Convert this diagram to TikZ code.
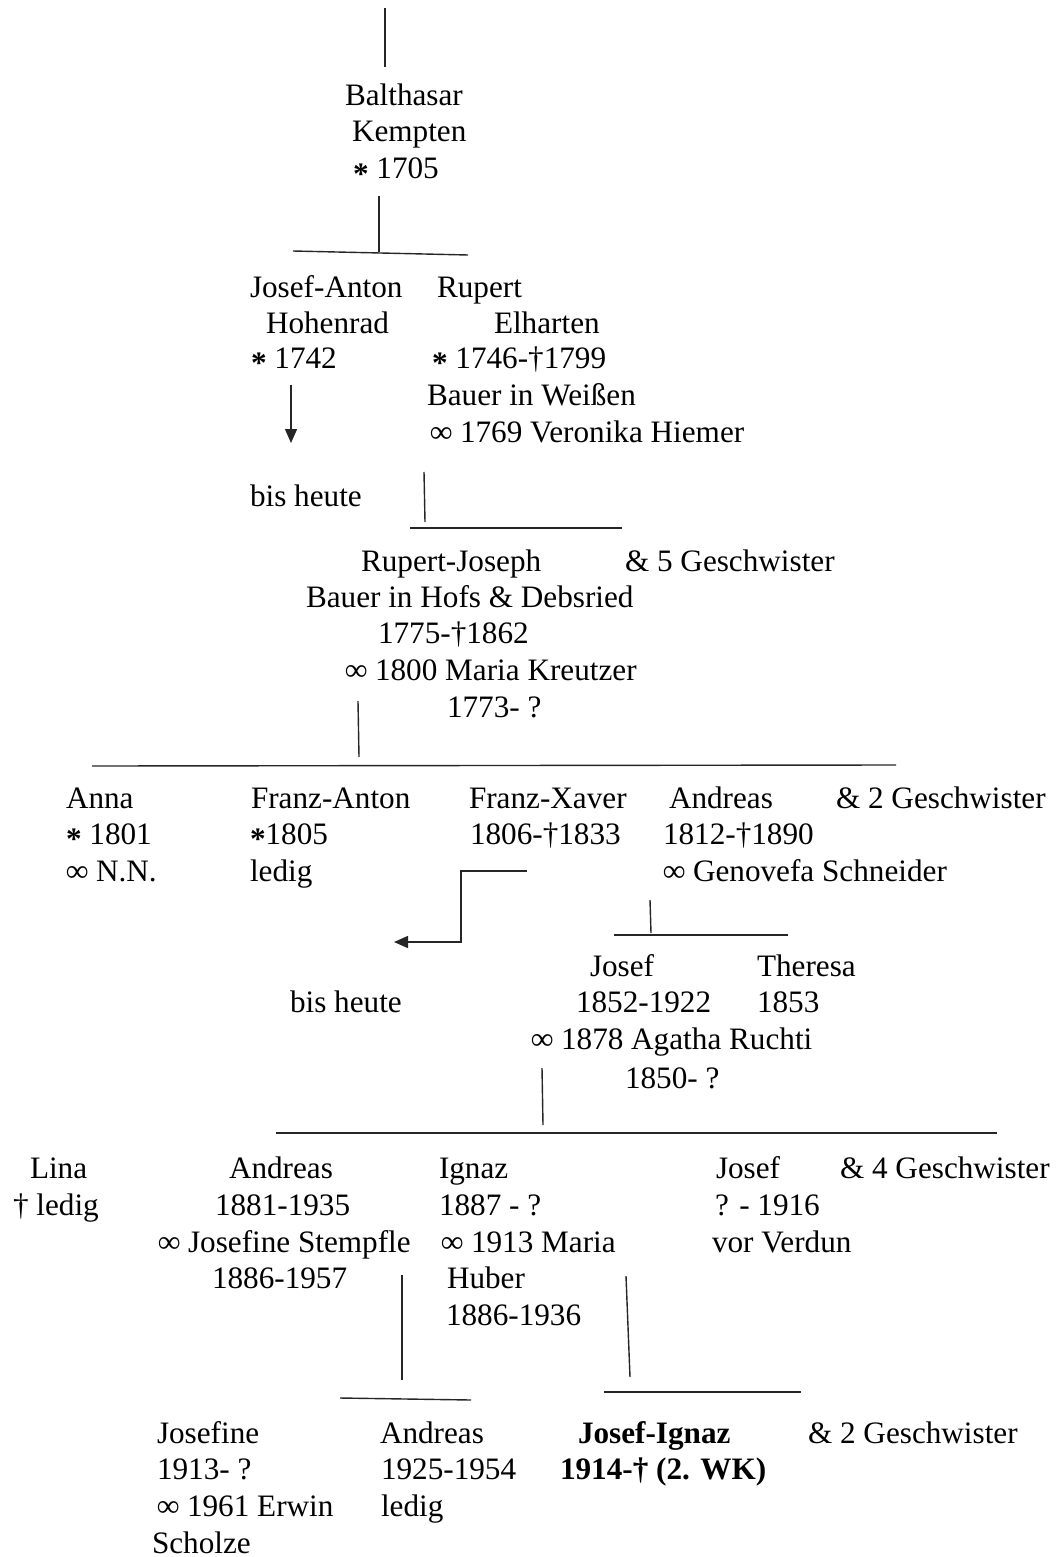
\documentclass[tikz,border=0pt]{standalone}
\usepackage{fontspec}
\setmainfont{Liberation Serif}
\usetikzlibrary{arrows.meta}
% birth and marriage marks
\newcommand\bornmk{\raisebox{-0.17em}{\bfseries *}}
\newcommand\marrmk{\textbf{∞}}

\begin{document}
\begin{tikzpicture}[x=0.5pt,y=-0.5pt,
  txt/.style={anchor=base west,inner sep=0pt,outer sep=0pt,
    font=\fontsize{15.6pt}{18.4pt}\selectfont},
  btxt/.style={txt,font=\fontsize{15.6pt}{18.4pt}\selectfont\bfseries},
  link/.style={line width=0.7pt,black!85},
  desc/.style={link,-{Triangle[length=7pt,width=6pt]}}]
\useasboundingbox (0,0) rectangle (1061,1557);

% ---- Balthasar
\node[txt] (b1) at (345,106) {Balthasar};
\node[txt] (b2) at (352,142) {Kempten};
\node[txt] (b3) at (353,179) {\bornmk\ 1705};

% ---- second generation
\node[txt] (ja1) at (250,297) {Josef-Anton};
\node[txt] (ja2) at (266,333) {Hohenrad};
\node[txt] (ja3) at (251,368) {\bornmk\ 1742};
\node[txt] (ru1) at (437,297) {Rupert};
\node[txt] (ru2) at (494,333) {Elharten};
\node[txt] (ru3) at (432,368) {\bornmk\ 1746-†1799};
\node[txt] (ru4) at (427,405) {Bauer in Weißen};
\node[txt] (ru5) at (430,442) {\marrmk\ 1769 Veronika Hiemer};
\node[txt] (bh1) at (250,506) {bis heute};

% ---- Rupert-Joseph
\node[txt] (rj1) at (361,571) {Rupert-Joseph};
\node[txt] (rjg) at (625,571) {\& 5 Geschwister};
\node[txt] (rj2) at (306,607) {Bauer in Hofs \& Debsried};
\node[txt] (rj3) at (378,643) {1775-†1862};
\node[txt] (rj4) at (345,680) {\marrmk\ 1800 Maria Kreutzer};
\node[txt] (rj5) at (447,717) {1773- ?};

% ---- fourth generation
\node[txt] (an1) at (66,808) {Anna};
\node[txt] (an2) at (66,844) {\bornmk\ 1801};
\node[txt] (an3) at (66,881) {\marrmk\ N.N.};
\node[txt] (fa1) at (251,808) {Franz-Anton};
\node[txt] (fa2) at (250,844) {\bornmk1805};
\node[txt] (fa3) at (250,881) {ledig};
\node[txt] (fx1) at (469,808) {Franz-Xaver};
\node[txt] (fx2) at (470,844) {1806-†1833};
\node[txt] (ad1) at (669,808) {Andreas};
\node[txt] (ad2) at (663,844) {1812-†1890};
\node[txt] (ad3) at (663,881) {\marrmk\ Genovefa Schneider};
\node[txt] (g4g) at (836,808) {\& 2 Geschwister};
\node[txt] (bh2) at (290,1012) {bis heute};

% ---- Josef and Theresa
\node[txt] (jo1) at (590,976) {Josef};
\node[txt] (jo2) at (576,1012) {1852-1922};
\node[txt] (jo3) at (531,1049) {\marrmk\ 1878 Agatha Ruchti};
\node[txt] (jo4) at (625,1088) {1850- ?};
\node[txt] (th1) at (757,976) {Theresa};
\node[txt] (th2) at (757,1012) {1853};

% ---- sixth generation
\node[txt] (li1) at (30,1178) {Lina};
\node[txt] (li2) at (13,1215) {† ledig};
\node[txt] (aa1) at (229,1178) {Andreas};
\node[txt] (aa2) at (215,1215) {1881-1935};
\node[txt] (aa3) at (158,1252) {\marrmk\ Josefine Stempfle};
\node[txt] (aa4) at (212,1288) {1886-1957};
\node[txt] (ig1) at (439,1178) {Ignaz};
\node[txt] (ig2) at (439,1215) {1887 - ?};
\node[txt] (ig3) at (441,1252) {\marrmk\ 1913 Maria};
\node[txt] (ig4) at (447,1288) {Huber};
\node[txt] (ig5) at (446,1325) {1886-1936};
\node[txt] (js1) at (716,1178) {Josef};
\node[txt] (js2) at (715,1215) {? - 1916};
\node[txt] (js3) at (712,1252) {vor Verdun};
\node[txt] (g6g) at (840,1178) {\& 4 Geschwister};

% ---- seventh generation
\node[txt] (jf1) at (157,1443) {Josefine};
\node[txt] (jf2) at (157,1479) {1913- ?};
\node[txt] (jf3) at (157,1516) {\marrmk\ 1961 Erwin};
\node[txt] (jf4) at (152,1553) {Scholze};
\node[txt] (an71) at (380,1443) {Andreas};
\node[txt] (an72) at (381,1479) {1925-1954};
\node[txt] (an73) at (381,1516) {ledig};
\node[btxt] (ji1) at (578,1443) {Josef-Ignaz};
\node[btxt] (ji2) at (560,1479) {1914-† (2. WK)};
\node[txt] (g7g) at (808,1443) {\& 2 Geschwister};

% ---- connector end points
\coordinate (t0) at (385,8);    \coordinate (t1) at (385,67);
\coordinate (v1a) at (379,196); \coordinate (v1b) at (379,252);
\coordinate (h1a) at (293,251); \coordinate (h1b) at (468,255);
\coordinate (a1a) at (291,385); \coordinate (a1b) at (291,443);
\coordinate (v2a) at (424,472); \coordinate (v2b) at (425,522);
\coordinate (h2a) at (410,528); \coordinate (h2b) at (622,528);
\coordinate (v3a) at (358,701); \coordinate (v3b) at (359,757);
\coordinate (h3a) at (92,766);  \coordinate (h3b) at (896,765);
\coordinate (e1) at (527,871);  \coordinate (e2) at (461,871);
\coordinate (e3) at (461,942);  \coordinate (e4) at (394,942);
\coordinate (v4a) at (650,900); \coordinate (v4b) at (651,933);
\coordinate (h4a) at (614,935); \coordinate (h4b) at (788,935);
\coordinate (v5a) at (542,1068);\coordinate (v5b) at (543,1125);
\coordinate (h5a) at (276,1133);\coordinate (h5b) at (997,1133);
\coordinate (v6a) at (402,1275);\coordinate (v6b) at (402,1380);
\coordinate (h6a) at (340,1398);\coordinate (h6b) at (471,1400);
\coordinate (v7a) at (626,1276);\coordinate (v7b) at (630,1377);
\coordinate (h7a) at (604,1392);\coordinate (h7b) at (801,1392);

% ---- connectors
\draw[link] (t0) -- (t1);
\draw[link] (v1a) -- (v1b);
\draw[link] (h1a) -- (h1b);
\draw[desc] (a1a) -- (a1b);
\draw[link] (v2a) -- (v2b);
\draw[link] (h2a) -- (h2b);
\draw[link] (v3a) -- (v3b);
\draw[link] (h3a) -- (h3b);
\draw[desc] (e1) -- (e2) -- (e3) -- (e4);
\draw[link] (v4a) -- (v4b);
\draw[link] (h4a) -- (h4b);
\draw[link] (v5a) -- (v5b);
\draw[link] (h5a) -- (h5b);
\draw[link] (v6a) -- (v6b);
\draw[link] (h6a) -- (h6b);
\draw[link] (v7a) -- (v7b);
\draw[link] (h7a) -- (h7b);
\end{tikzpicture}
\end{document}
